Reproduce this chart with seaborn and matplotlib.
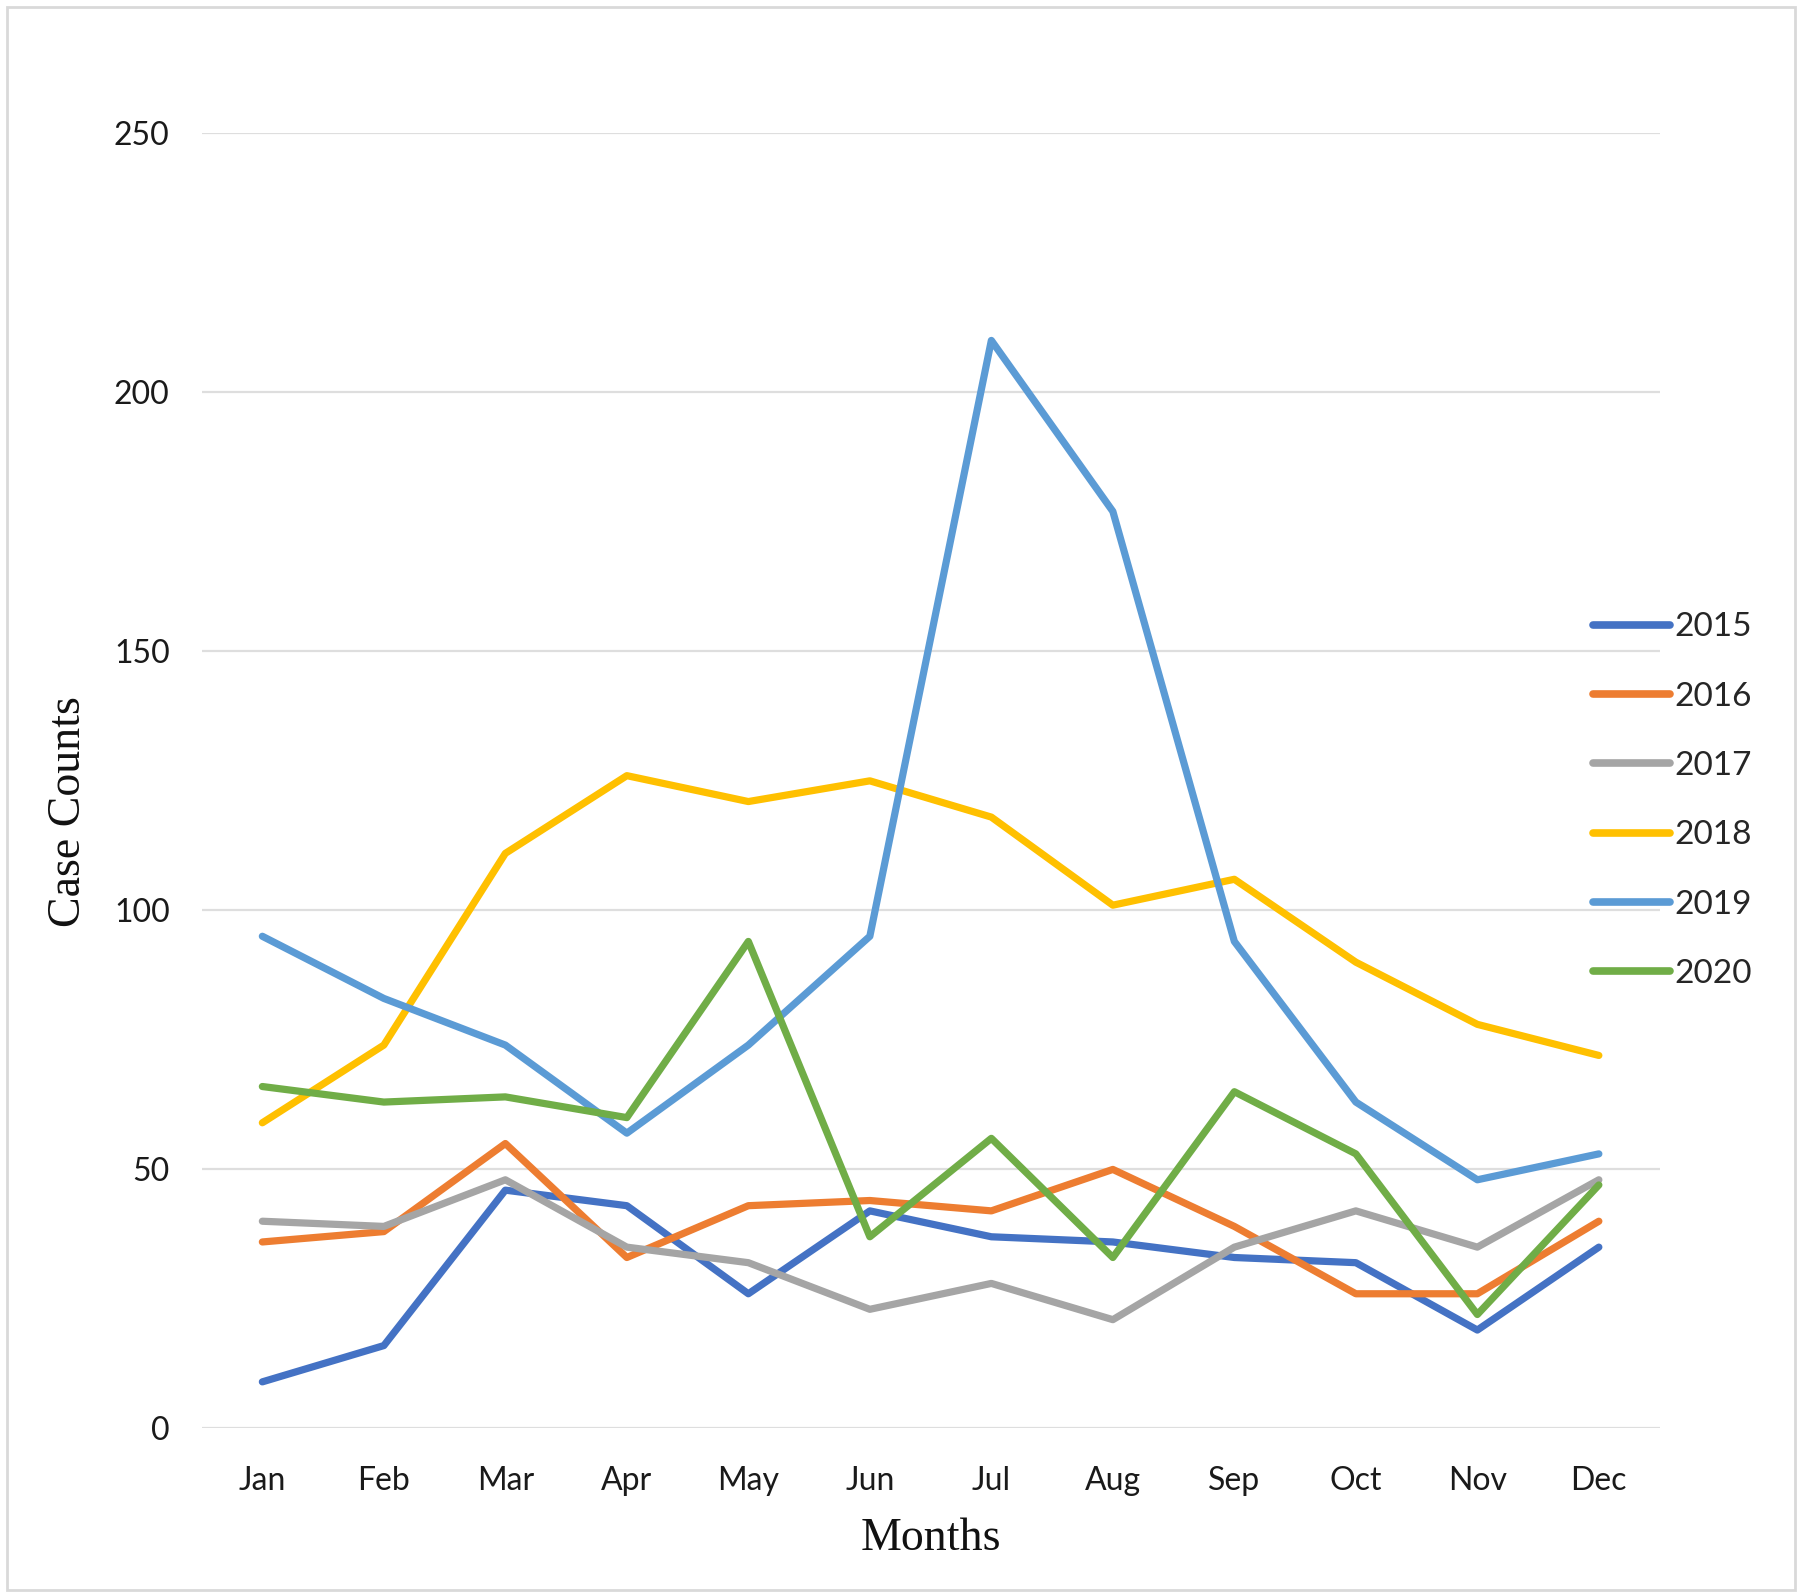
import matplotlib
matplotlib.use("Agg")
import matplotlib.pyplot as plt
import seaborn as sns
import pandas as pd
from matplotlib.patches import Rectangle

months = ["Jan", "Feb", "Mar", "Apr", "May", "Jun", "Jul", "Aug", "Sep", "Oct", "Nov", "Dec"]
years = ["2015", "2016", "2017", "2018", "2019", "2020"]
cases_2015 = [9, 16, 46, 43, 26, 42, 37, 36, 33, 32, 19, 35]
cases_2016 = [36, 38, 55, 33, 43, 44, 42, 50, 39, 26, 26, 40]
cases_2017 = [40, 39, 48, 35, 32, 23, 28, 21, 35, 42, 35, 48]
cases_2018 = [59, 74, 111, 126, 121, 125, 118, 101, 106, 90, 78, 72]
cases_2019 = [95, 83, 74, 57, 74, 95, 210, 177, 94, 63, 48, 53]
cases_2020 = [66, 63, 64, 60, 94, 37, 56, 33, 65, 53, 22, 47]
y_ticks = [0, 50, 100, 150, 200, 250]

series = [cases_2015, cases_2016, cases_2017, cases_2018, cases_2019, cases_2020]
colors = ["#4472C4", "#ED7D31", "#A5A5A5", "#FFC000", "#5B9BD5", "#70AD47"]

rows = []
for yr, vals in zip(years, series):
    for m, v in zip(months, vals):
        rows.append({"Month": m, "Year": yr, "Cases": v})
df = pd.DataFrame(rows)

sns.set_style("white")
plt.rcParams["font.family"] = ["Lato", "DejaVu Sans"]

fig = plt.figure(figsize=(18, 15.95), dpi=100)
ax = fig.add_axes([0.112, 0.1044, 0.81, 0.8121])

sns.lineplot(data=df, x="Month", y="Cases", hue="Year", palette=colors,
             linewidth=5.2, sort=False, ax=ax, legend=True)

ax.set_xlim(-0.5, 11.5)
ax.set_ylim(0, 250)
ax.set_yticks(y_ticks)
ax.set_xticks(range(len(months)))
ax.set_xticklabels(months)
ax.grid(axis="y", color="#DEDEDE", linewidth=1.6)
ax.grid(axis="x", visible=False)
ax.set_axisbelow(True)
for s in ax.spines.values():
    s.set_visible(False)
ax.tick_params(axis="y", length=0, pad=23, labelsize=23, labelcolor="#1a1a1a")
ax.tick_params(axis="x", length=0, pad=27, labelsize=23, labelcolor="#1a1a1a")
ax.set_xlabel("")
ax.set_ylabel("")

fig.text(0.0383, 0.491, "Case Counts", rotation=90, ha="center", va="center",
         fontsize=33, family=["Liberation Serif", "DejaVu Serif"], color="#111111")
fig.text(0.517, 0.0353, "Months", ha="center", va="center",
         fontsize=33, family=["Liberation Serif", "DejaVu Serif"], color="#111111")

handles, labels = ax.get_legend_handles_labels()
ax.get_legend().remove()
for h in handles:
    h.set_linewidth(5.5)
    h.set_solid_capstyle("round")
fig.legend(handles, labels, loc="center left", bbox_to_anchor=(0.885, 0.498),
           frameon=False, fontsize=24, handlelength=2.3, handletextpad=0.15,
           labelspacing=1.18, borderpad=0, borderaxespad=0)

fig.patches.append(Rectangle((0.004, 0.003), 0.993, 0.9925, transform=fig.transFigure,
                             fill=False, edgecolor="#D9D9D9", linewidth=2))

fig.savefig("out.png", dpi=100)
